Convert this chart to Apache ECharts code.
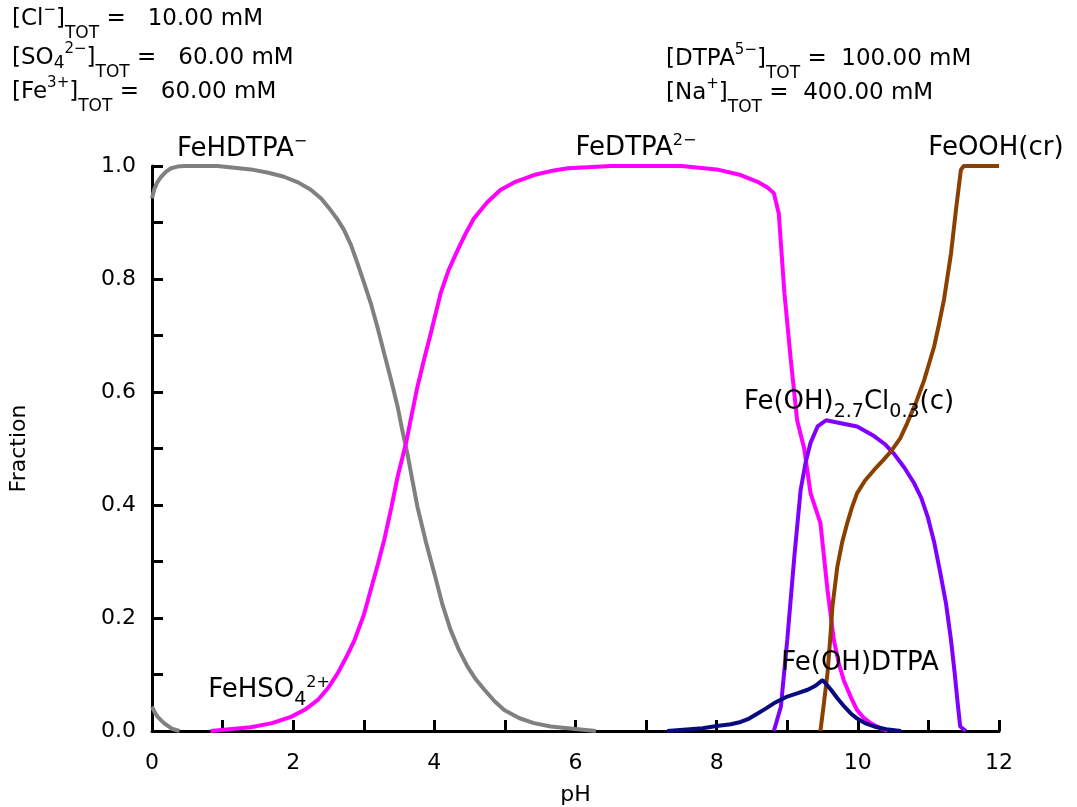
<!DOCTYPE html>
<html>
<head>
<meta charset="utf-8">
<script src="https://cdn.jsdelivr.net/npm/echarts@6/dist/echarts.min.js"></script>
<style>
  html, body { margin: 0; padding: 0; background: #fff; }
  #chart { width: 1077px; height: 807px; }
</style>
</head>
<body>
<div id="chart"></div>
<script>
(function(){

  // [pH, fraction]
  const feHSO4 = [[0,0.043],[0.04,0.033],[0.08,0.025],[0.17,0.014],[0.28,0.004],[0.39,0]]
  const feHDTPA = [[0,0.943],[0.03,0.958],[0.07,0.97],[0.13,0.981],[0.2,0.99],[0.27,0.996],[0.36,0.999],
    [0.46,1.0],[0.93,1.0],[1.4,0.994],[1.65,0.988],[1.87,0.981],[2.07,0.971],[2.25,0.958],[2.4,0.942],
    [2.53,0.922],[2.63,0.905],[2.72,0.887],[2.82,0.86],[2.91,0.828],[3.0,0.795],[3.1,0.757],[3.2,0.712],
    [3.29,0.668],[3.39,0.62],[3.48,0.574],[3.55,0.53],[3.62,0.49],[3.69,0.443],[3.76,0.397],[3.88,0.335],
    [4.0,0.279],[4.11,0.226],[4.23,0.179],[4.35,0.143],[4.47,0.114],[4.59,0.091],[4.71,0.073],[4.85,0.053],
    [4.99,0.037],[5.2,0.023],[5.41,0.014],[5.65,0.008],[5.89,0.005],[6.29,0]]
  const feDTPA = [[0.83,0],[1.4,0.0065],[1.7,0.014],[1.97,0.025],[2.17,0.038],[2.35,0.055],[2.5,0.077],
    [2.63,0.102],[2.75,0.13],[2.87,0.161],[3.0,0.205],[3.1,0.25],[3.2,0.295],[3.29,0.338],[3.39,0.395],
    [3.48,0.45],[3.6,0.51],[3.68,0.56],[3.76,0.609],[3.86,0.66],[3.95,0.704],[4.09,0.775],[4.2,0.815],
    [4.33,0.851],[4.45,0.882],[4.56,0.907],[4.75,0.936],[4.94,0.958],[5.15,0.972],[5.41,0.984],
    [5.65,0.991],[5.89,0.996],[6.5,1.0],[7.5,1.0],[8.0,0.994],[8.34,0.984],[8.58,0.972],[8.72,0.962],
    [8.81,0.952],[8.88,0.916],[8.96,0.775],[9.05,0.657],[9.14,0.55],[9.24,0.5],[9.33,0.421],[9.47,0.368],
    [9.57,0.25],[9.66,0.161],[9.73,0.12],[9.8,0.09],[9.9,0.06],[9.99,0.037],[10.08,0.024],[10.18,0.014],
    [10.3,0.006],[10.42,0]]
  const feOHCl = [[8.81,0],[8.91,0.043],[9.0,0.161],[9.1,0.308],[9.19,0.427],[9.26,0.475],[9.33,0.51],
    [9.43,0.539],[9.55,0.55],[9.99,0.539],[10.23,0.522],[10.38,0.508],[10.51,0.491],[10.66,0.466],
    [10.8,0.438],[10.9,0.412],[10.99,0.379],[11.08,0.335],[11.17,0.279],[11.25,0.225],[11.32,0.161],
    [11.37,0.105],[11.41,0.055],[11.45,0.008],[11.53,0]]
  const feOOH = [[9.47,0],[9.52,0.05],[9.57,0.102],[9.61,0.165],[9.64,0.22],[9.71,0.291],[9.78,0.335],
    [9.85,0.368],[9.92,0.397],[9.99,0.421],[10.1,0.443],[10.23,0.462],[10.35,0.478],[10.47,0.495],
    [10.6,0.518],[10.7,0.545],[10.82,0.58],[10.94,0.621],[11.08,0.68],[11.15,0.72],[11.22,0.763],
    [11.32,0.845],[11.39,0.922],[11.46,0.993],[11.5,1.0],[12,1.0]]
  const feOHDTPA = [[7.3,0],[7.8,0.005],[8.0,0.009],[8.2,0.012],[8.34,0.016],[8.46,0.022],[8.58,0.031],
    [8.7,0.04],[8.81,0.049],[9.0,0.061],[9.15,0.067],[9.29,0.073],[9.4,0.08],[9.5,0.09],[9.56,0.082],
    [9.62,0.073],[9.71,0.058],[9.81,0.043],[9.9,0.031],[9.99,0.022],[10.1,0.014],[10.23,0.008],
    [10.4,0.003],[10.61,0]]

  const font = 'DejaVu Sans'

  // header: rich-text pieces for concentrations (sub/sup shifted with padding)
  const headRich = {
    n: { fontSize: 23, fontFamily: font, color: '#000', lineHeight: 46 },
    sb: { fontSize: 17, fontFamily: font, color: '#000', verticalAlign: 'bottom' },
    s4: { fontSize: 17, fontFamily: font, color: '#000', verticalAlign: 'bottom', padding: [0, 0, 9, 0] },
    sp: { fontSize: 15, fontFamily: font, color: '#000', verticalAlign: 'top', padding: [7, 0, 0, 0] }
  }
  function head(x, y, text){
    return { type: 'text', x: x, y: y, style: { text: text, rich: headRich, verticalAlign: 'middle' } }
  }

  function spRich(color){
    return {
      n: { fontSize: 26, fontFamily: font, color: color, lineHeight: 40 },
      sb: { fontSize: 19, fontFamily: font, color: color, verticalAlign: 'bottom' },
      sp: { fontSize: 16, fontFamily: font, color: color, verticalAlign: 'top', padding: [5, 0, 0, 0] }
    }
  }
  function species(cx, cy, text, color){
    return { type: 'text', x: cx, y: cy, z: 10,
      style: { text: text, rich: spRich(color), align: 'center', verticalAlign: 'middle' } }
  }

  const lineSeries = (name, data, color) => ({
    name: name, type: 'line', data: data, showSymbol: false, symbol: 'none',
    lineStyle: { color: color, width: 4 }, animation: false
  })

  const chart = echarts.init(document.getElementById('chart'))
  const option = {
    backgroundColor: '#fff',
    grid: { left: 152, right: 78, top: 166, bottom: 76, outerBoundsMode: 'none', containLabel: false },
    xAxis: {
      type: 'value', min: 0, max: 12, interval: 2,
      name: 'pH', nameLocation: 'middle', nameGap: 53,
      nameTextStyle: { fontSize: 22, fontFamily: font, color: '#000' },
      axisLine: { lineStyle: { color: '#000', width: 3 } },
      axisTick: { inside: true, length: 11, lineStyle: { color: '#000', width: 3 } },
      minorTick: { show: true, splitNumber: 2, length: 11, lineStyle: { color: '#000', width: 3 } },
      axisLabel: { fontSize: 22, fontFamily: font, color: '#000', margin: 21 },
      splitLine: { show: false }
    },
    yAxis: {
      type: 'value', min: 0, max: 1, interval: 0.2,
      name: 'Fraction', nameLocation: 'middle', nameGap: 122, nameRotate: 90,
      nameTextStyle: { fontSize: 22, fontFamily: font, color: '#000' },
      axisLine: { show: true, lineStyle: { color: '#000', width: 3 } },
      axisTick: { show: true, inside: true, length: 11, lineStyle: { color: '#000', width: 3 } },
      minorTick: { show: true, splitNumber: 2, length: 11, lineStyle: { color: '#000', width: 3 } },
      axisLabel: { fontSize: 22, fontFamily: font, color: '#000', margin: 16,
        formatter: v => v.toFixed(1) },
      splitLine: { show: false }
    },
    graphic: [
      head(12, 19, '{n|[Cl}{sp|−}{n|]}{sb|TOT}{n| =   10.00 mM}'),
      head(12, 58, '{n|[SO}{s4|4}{sp|2−}{n|]}{sb|TOT}{n| =   60.00 mM}'),
      head(12, 92, '{n|[Fe}{sp|3+}{n|]}{sb|TOT}{n| =   60.00 mM}'),
      head(666, 59, '{n|[DTPA}{sp|5−}{n|]}{sb|TOT}{n| =  100.00 mM}'),
      head(666, 93, '{n|[Na}{sp|+}{n|]}{sb|TOT}{n| =  400.00 mM}'),
      species(242, 149, '{n|FeHDTPA}{sp|−}', '#808080'),
      species(636, 148, '{n|FeDTPA}{sp|2−}', '#ff00ff'),
      species(996, 148, '{n|FeOOH(cr)}', '#8b4000'),
      species(849, 402, '{n|Fe(OH)}{sb|2.7}{n|Cl}{sb|0.3}{n|(c)}', '#8000ff'),
      species(860, 663, '{n|Fe(OH)DTPA}', '#0a0a80'),
      species(269, 690, '{n|FeHSO}{sb|4}{sp|2+}', '#808080')
    ],
    series: [
      lineSeries('FeHSO4 2+', feHSO4, '#808080'),
      lineSeries('FeHDTPA-', feHDTPA, '#808080'),
      lineSeries('FeDTPA2-', feDTPA, '#ff00ff'),
      lineSeries('Fe(OH)2.7Cl0.3(c)', feOHCl, '#8000ff'),
      lineSeries('FeOOH(cr)', feOOH, '#8b4000'),
      lineSeries('Fe(OH)DTPA', feOHDTPA, '#0a0a80')
    ]
  }
  chart.setOption(option)
  window.addEventListener('resize', () => {
    chart.resize()
  })

})();
</script>
</body>
</html>
